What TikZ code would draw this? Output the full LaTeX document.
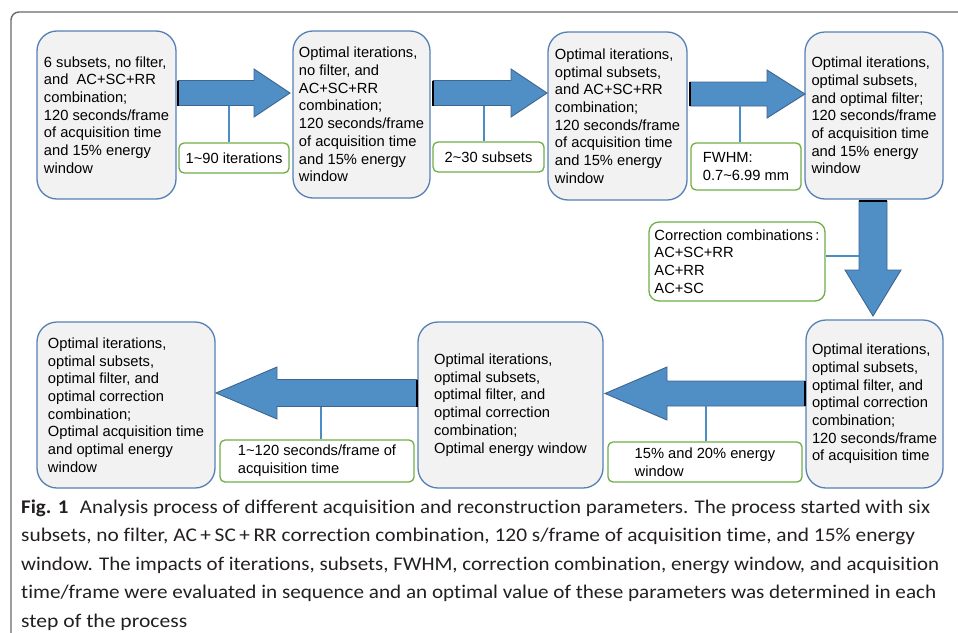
\documentclass[tikz,border=0pt]{standalone}
\usepackage{fontspec}
\usepackage{graphicx}
\setmainfont{Liberation Sans}
\newfontfamily\capfont[Ligatures=NoCommon]{Carlito}
\definecolor{boxline}{RGB}{84,128,182}
\definecolor{boxfill}{RGB}{242,242,242}
\definecolor{labgreen}{RGB}{112,173,71}
\definecolor{arrowfill}{RGB}{80,143,198}
\definecolor{arrowline}{RGB}{62,100,145}
\definecolor{connblue}{RGB}{74,140,196}
\definecolor{framegray}{RGB}{105,105,105}
\definecolor{captext}{RGB}{35,31,32}
\newcommand\bxfont{\fontsize{14.7}{17.7}\selectfont}
\newcommand\hblockarrow[6]{%
  \draw[blockarrow] ({#1},{#3-#4}) -- ({#2-#6},{#3-#4}) -- ({#2-#6},{#3-#5}) -- ({#2},{#3})
    -- ({#2-#6},{#3+#5}) -- ({#2-#6},{#3+#4}) -- ({#1},{#3+#4}) -- cycle;
  \draw[black, line width=1.2pt] ({#1},{#3-#4}) -- ({#1},{#3+#4});}
\tikzset{
  mainbox/.style={draw=boxline, fill=boxfill, line width=1.3pt, rounded corners=20pt,
    align=left, inner sep=0pt, font=\bxfont},
  labelbox/.style={draw=labgreen, fill=white, line width=1.3pt, rounded corners=5pt,
    align=left, inner sep=0pt, font=\bxfont},
  conn/.style={draw=connblue, line width=1.5pt},
  blockarrow/.style={fill=arrowfill, draw=arrowline, line width=0.9pt, line join=miter},
  capline/.style={anchor=base west, inner sep=0pt, font=\capfont\fontsize{22}{26}\selectfont, text=captext},
}
\begin{document}
\begin{tikzpicture}[x=1pt,y=-1pt]
\useasboundingbox (0,0) rectangle (958,632);
% outer frame
\draw[framegray, line width=1.4pt, rounded corners=8pt] (11,640) -- (11,12) -- (966,12);

% main boxes
\node[mainbox, minimum width=139, minimum height=168] (b1) at (106.5,115)
  {6 subsets, no filter,\\and\ \ AC+SC+RR\\combination;\\120 seconds/frame\\of acquisition time\\and 15\% energy\\window};
\node[mainbox, minimum width=137, minimum height=167] (b2) at (361.5,114.5)
  {Optimal iterations,\\no filter, and\\AC+SC+RR\\combination;\\120 seconds/frame\\of acquisition time\\and 15\% energy\\window};
\node[mainbox, minimum width=139, minimum height=168] (b3) at (617.5,116)
  {Optimal iterations,\\optimal subsets,\\and AC+SC+RR\\combination;\\120 seconds/frame\\of acquisition time\\and 15\% energy\\window};
\node[mainbox, minimum width=138, minimum height=167] (b4) at (874,115.5)
  {Optimal iterations,\\optimal subsets,\\and optimal filter;\\120 seconds/frame\\of acquisition time\\and 15\% energy\\window};
\node[mainbox, minimum width=137, minimum height=168] (b5) at (874.5,404)
  {Optimal iterations,\\optimal subsets,\\optimal filter, and\\optimal correction\\combination;\\120 seconds/frame\\of acquisition time};
\node[mainbox, minimum width=185, minimum height=166] (b6) at (510.5,405)
  {Optimal iterations,\\optimal subsets,\\optimal filter, and\\optimal correction\\combination;\\Optimal energy window};
\node[mainbox, minimum width=178, minimum height=166] (b7) at (126,405)
  {Optimal iterations,\\optimal subsets,\\optimal filter, and\\optimal correction\\combination;\\Optimal acquisition time\\and optimal energy\\window};

% block arrows
\hblockarrow{178}{290}{93}{12.5}{24}{36}
\hblockarrow{433}{547}{93}{12.5}{24}{36}
\hblockarrow{690}{805}{94}{12}{24}{38}
\draw[blockarrow] (859,201) -- (859,270) -- (845,270) -- (873,316) -- (901,270) -- (887,270) -- (887,201) -- cycle;
\draw[black, line width=1.2pt] (859,201) -- (887,201);
\hblockarrow{805}{605}{393.5}{12.5}{26.5}{-62}
\hblockarrow{417}{216}{393}{13.5}{26}{-61}

% label boxes
\node[labelbox, minimum width=110, minimum height=30] (l1) at (234,158) {1\textasciitilde 90 iterations};
\node[labelbox, minimum width=111, minimum height=30] (l2) at (488.5,157) {2\textasciitilde 30 subsets};
\node[labelbox, minimum width=110, minimum height=47] (l3) at (746,166.5) {FWHM:\\0.7\textasciitilde 6.99 mm};
\node[labelbox, rounded corners=10pt, minimum width=176, minimum height=79] (lc) at (737,261.5)
  {Correction combinations\,:\\AC+SC+RR\\AC+RR\\AC+SC};
\node[labelbox, minimum width=194, minimum height=40] (l5) at (705,462) {15\% and 20\% energy\\window};
\node[labelbox, minimum width=194, minimum height=42] (l6) at (317,461) {1\textasciitilde 120 seconds/frame of\\acquisition time};

% connectors
\coordinate (c1) at (229,105.5);
\coordinate (c2) at (484,105.5);
\coordinate (c3) at (740,106);
\coordinate (c4) at (859,256);
\coordinate (c5) at (706,406);
\coordinate (c6) at (321,406.5);
\draw[conn] (c1) -- (c1 |- l1.north);
\draw[conn] (c2) -- (c2 |- l2.north);
\draw[conn] (c3) -- (c3 |- l3.north);
\draw[conn] (c4) -- (c4 -| lc.east);
\draw[conn] (c5) -- (c5 |- l5.north);
\draw[conn] (c6) -- (c6 |- l6.north);

% caption
\node[capline] (cap1) at (21,513) {\resizebox{909pt}{0.88\height}{\textbf{Fig. 1}\hspace{0.55em}Analysis process of different acquisition and reconstruction parameters. The process started with six}};
\node[capline] (cap2) at (21,541.5) {\resizebox{894pt}{0.88\height}{subsets, no filter, AC\,+\,SC\,+\,RR correction combination, 120 s/frame of acquisition time, and 15\% energy}};
\node[capline] (cap3) at (21,570) {\resizebox{918pt}{0.88\height}{window. The impacts of iterations, subsets, FWHM, correction combination, energy window, and acquisition}};
\node[capline] (cap4) at (21,598.5) {\resizebox{915pt}{0.88\height}{time/frame were evaluated in sequence and an optimal value of these parameters was determined in each}};
\node[capline] (cap5) at (21,627) {\resizebox{166pt}{0.88\height}{step of the process}};
\end{tikzpicture}
\end{document}
